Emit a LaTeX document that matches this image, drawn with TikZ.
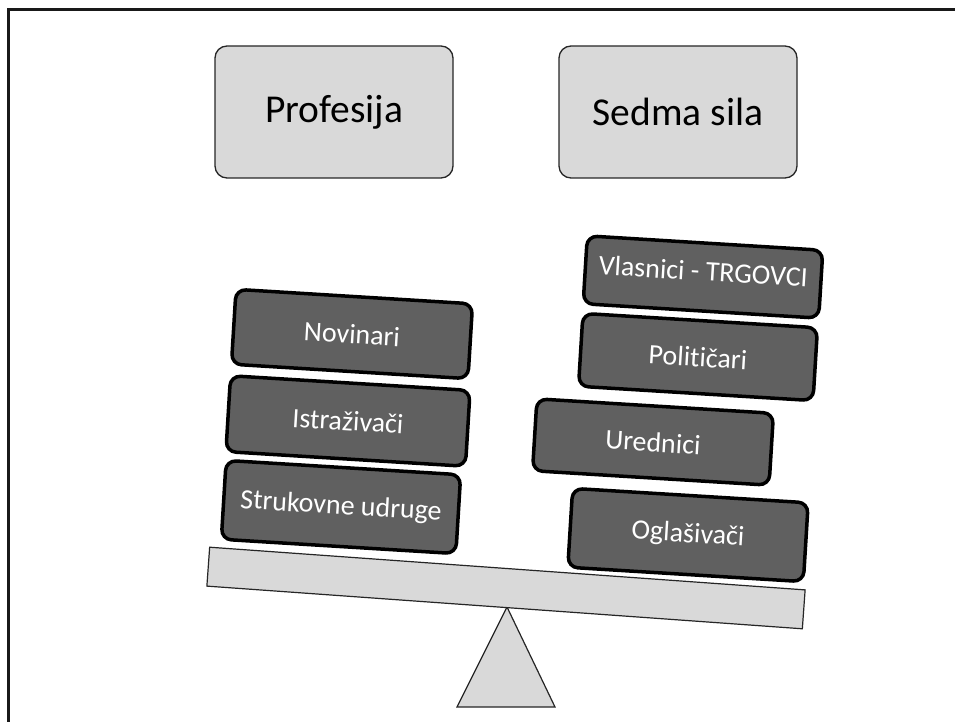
\documentclass[tikz,border=0pt]{standalone}
\usepackage{fontspec}
\setmainfont[RawFeature=-liga]{Carlito}
\definecolor{lightfill}{HTML}{D9D9D9}
\definecolor{stonefill}{HTML}{606060}
\begin{document}
\begin{tikzpicture}[x=1pt,y=-1pt,
  topbox/.style={draw=black!85,line width=1.3pt,fill=lightfill,rounded corners=12pt,
    minimum width=238pt,minimum height=132pt,inner sep=0pt,font=\fontsize{39.5}{44}\selectfont},
  stone/.style={draw=black,line width=3.5pt,fill=stonefill,rounded corners=10pt,
    text=white,inner sep=0pt,font=\fontsize{28}{32}\selectfont,rotate=-3.5},
  beamstyle/.style={draw=black!85,line width=1.2pt,fill=lightfill,inner sep=0pt,
    minimum width=597pt,minimum height=39pt,rotate=-4.1},
  fulcrum/.style={draw=black!85,line width=1.2pt,fill=lightfill,line join=miter},
  frame/.style={line width=3pt,draw=black!90}]
\path[use as bounding box] (0,0) rectangle (955,722);
% frame
\coordinate (fbl) at (8,722);
\coordinate (ftl) at (8,10);
\coordinate (ftr) at (955,10);
\draw[frame] (fbl) -- (ftl) -- (ftr);
% top boxes
\node[topbox] (prof) at (334,112) {Profesija};
\node[topbox] (sedma) at (678,112) {Sedma sila};
% fulcrum
\coordinate (apex) at (507,607);
\coordinate (baseL) at (457,707);
\coordinate (baseR) at (555,707);
\draw[fulcrum] (apex) -- (baseL) -- (baseR) -- cycle;
% beam
\node[beamstyle] (beam) at (506,588) {};
% left stack
\node[stone,minimum width=237pt,minimum height=75pt] (nov) at (352,334) {Novinari};
\node[stone,minimum width=240pt,minimum height=76pt] (istr) at (348,421) {Istraživači};
\node[stone,minimum width=235pt,minimum height=79pt] (struk) at (341,507) {Strukovne udruge};
% right stack
\node[stone,minimum width=236pt,minimum height=68pt,text depth=12pt] (vlas) at (703,277) {Vlasnici - TRGOVCI};
\node[stone,minimum width=235pt,minimum height=73pt] (pol) at (698,357) {Polit\kern0pt ičari};
\node[stone,minimum width=237pt,minimum height=72pt] (ured) at (653,442) {Urednici};
\node[stone,minimum width=236pt,minimum height=79pt] (ogl) at (688,535) {Oglašivači};
\end{tikzpicture}
\end{document}
